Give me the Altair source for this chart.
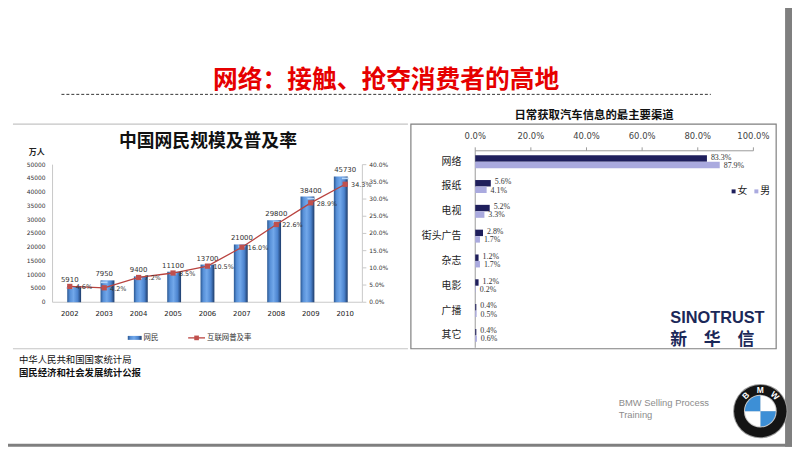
import math
import altair as alt
import pandas as pd

# ---------------- data ----------------
years = [2002, 2003, 2004, 2005, 2006, 2007, 2008, 2009, 2010]
netizens = [5910, 7950, 9400, 11100, 13700, 21000, 29800, 38400, 45730]
penetration = [4.6, 4.2, 7.2, 8.5, 10.5, 16.0, 22.6, 28.9, 34.3]
left_ticks = [0, 5000, 10000, 15000, 20000, 25000, 30000, 35000, 40000, 45000, 50000]
right_ticks = [0, 5, 10, 15, 20, 25, 30, 35, 40]

channels = ["网络", "报纸", "电视", "街头广告", "杂志", "电影", "广播", "其它"]
female = [83.3, 5.6, 5.2, 2.8, 1.2, 1.2, 0.4, 0.4]
male = [87.9, 4.1, 3.3, 1.7, 1.7, 0.2, 0.5, 0.6]
pct_ticks = [0, 20, 40, 60, 80, 100]

df_net = pd.DataFrame({"year": years, "netizens": netizens, "rate": penetration})
df_lt = pd.DataFrame({"v": left_ticks})
df_rt = pd.DataFrame({"v": right_ticks})
df_ch = pd.DataFrame({"channel": channels, "female": female, "male": male})
df_pt = pd.DataFrame({"v": pct_ticks})
one = pd.DataFrame({"d": [0]})

W, H = 792, 441
CJK = "Noto Sans CJK SC"
NUM = "DejaVu Sans"


def X(p):
    return p - 8


def Y(p):
    return p - 8


def txt(text, x, y, size, **kw):
    return alt.Chart(one).mark_text(text=text, fontSize=size, **kw).encode(
        x=alt.value(X(x)), y=alt.value(Y(y)))


def rule(x1, y1, x2, y2, **kw):
    return alt.Chart(one).mark_rule(**kw).encode(
        x=alt.value(X(x1)), y=alt.value(Y(y1)), x2=alt.value(X(x2)), y2=alt.value(Y(y2)))


def rect(x1, y1, x2, y2, **kw):
    return alt.Chart(one).mark_rect(**kw).encode(
        x=alt.value(X(x1)), y=alt.value(Y(y1)), x2=alt.value(X(x2)), y2=alt.value(Y(y2)))


# ---------------- scales ----------------
sx_year = alt.Scale(domain=[2001.5, 2010.5], range=[X(53), X(366)], nice=False, zero=False)
sy_net = alt.Scale(domain=[0, 50000], range=[Y(303), Y(164)], nice=False)
sy_rate = alt.Scale(domain=[0, 40], range=[Y(303), Y(164)], nice=False)
sx_pct = alt.Scale(domain=[0, 100], range=[X(480), X(761)], nice=False)
sy_ch = alt.Scale(domain=channels, range=[Y(148.5), Y(349)], paddingInner=0.46, paddingOuter=0.23)

grad = alt.LinearGradient(
    gradient="linear", x1=0, x2=1, y1=0, y2=0,
    stops=[alt.GradientStop(color="#2b5892", offset=0),
           alt.GradientStop(color="#5790d8", offset=0.2),
           alt.GradientStop(color="#72a8ea", offset=0.45),
           alt.GradientStop(color="#4c84cf", offset=0.75),
           alt.GradientStop(color="#1d3b69", offset=1)])

layers = []

# ---------------- slide decorations ----------------
layers.append(txt("网络：接触、抢夺消费者的高地", 390, 79, 25, font=CJK, fontWeight="bold",
                  color="#e60000", align="center", baseline="middle"))
layers.append(rule(62, 93, 718, 93, color="#333333", strokeWidth=1, strokeDash=[3, 2]))
layers.append(rule(13, 123, 412, 123, color="#c4c4c4", strokeWidth=1.2))
layers.append(rule(13, 350, 412, 350, color="#c4c4c4", strokeWidth=1.2))
layers.append(rect(415, 123, 784, 350, fill="white", stroke="#7f7f7f", strokeWidth=1.2))
layers.append(rect(793, 0, 800, 449, color="#7f7f7f"))
layers.append(rect(0, 446, 800, 449, color="#7f7f7f"))

# ---------------- left chart ----------------
layers.append(txt("中国网民规模及普及率", 210, 141, 18, font=CJK, fontWeight="bold",
                  color="#111", align="center", baseline="middle"))
layers.append(txt("万人", 37, 152, 8, font=CJK, fontWeight="bold", color="#222",
                  align="center", baseline="middle"))

layers.append(rule(53, 164, 53, 303, color="#c8c8c8"))
layers.append(rule(366, 164, 366, 303, color="#c8c8c8"))
layers.append(rule(53, 303, 366, 303, color="#c8c8c8"))

layers.append(alt.Chart(df_lt).mark_text(align="right", baseline="middle", fontSize=6,
                                         font=NUM, color="#333").encode(
    y=alt.Y("v:Q", scale=sy_net, axis=None), x=alt.value(X(46)),
    text=alt.Text("v:Q", format="d")))
layers.append(alt.Chart(df_rt).mark_rule(color="#c8c8c8").encode(
    y=alt.Y("v:Q", scale=sy_rate, axis=None), x=alt.value(X(366)), x2=alt.value(X(370))))
layers.append(alt.Chart(df_rt).transform_calculate(
    lab="format(datum.v, '.1f') + '%'").mark_text(
    align="left", baseline="middle", fontSize=6, font=NUM, color="#333").encode(
    y=alt.Y("v:Q", scale=sy_rate, axis=None), x=alt.value(X(373)), text="lab:N"))

layers.append(alt.Chart(df_net).mark_bar(size=14, fill=grad, orient="vertical").encode(
    x=alt.X("year:Q", scale=sx_year, axis=None),
    y=alt.Y("netizens:Q", scale=sy_net, axis=None)))
layers.append(alt.Chart(df_net).mark_point(
    shape="M-0.85,-0.22L0.85,-0.22L0.85,0.22L-0.85,0.22Z", filled=True, size=64,
    color="#b5d6f8", opacity=1, yOffset=2).encode(
    x=alt.X("year:Q", scale=sx_year, axis=None),
    y=alt.Y("netizens:Q", scale=sy_net, axis=None)))
layers.append(alt.Chart(df_net).mark_text(baseline="bottom", dy=-3, fontSize=7, font=NUM,
                                          color="#333").encode(
    x=alt.X("year:Q", scale=sx_year, axis=None),
    y=alt.Y("netizens:Q", scale=sy_net, axis=None),
    text=alt.Text("netizens:Q", format="d")))

layers.append(alt.Chart(df_net).mark_line(color="#b9433f", strokeWidth=1.3).encode(
    x=alt.X("year:Q", scale=sx_year, axis=None),
    y=alt.Y("rate:Q", scale=sy_rate, axis=None)))
layers.append(alt.Chart(df_net).mark_square(size=28, color="#c0504d", opacity=1).encode(
    x=alt.X("year:Q", scale=sx_year, axis=None),
    y=alt.Y("rate:Q", scale=sy_rate, axis=None)))
layers.append(alt.Chart(df_net).transform_calculate(
    lab="format(datum.rate, '.1f') + '%'").mark_text(
    align="left", baseline="middle", dx=6, dy=1, fontSize=6.5, font=NUM, color="#333").encode(
    x=alt.X("year:Q", scale=sx_year, axis=None),
    y=alt.Y("rate:Q", scale=sy_rate, axis=None), text="lab:N"))

layers.append(alt.Chart(df_net).mark_text(baseline="middle", fontSize=7, font=NUM,
                                          color="#222").encode(
    x=alt.X("year:Q", scale=sx_year, axis=None), y=alt.value(Y(315)),
    text=alt.Text("year:Q", format="d")))

# left legend
layers.append(rect(129, 337, 143, 341, fill=grad))
layers.append(txt("网民", 145, 339, 7.5, font=CJK, color="#333", align="left", baseline="middle"))
layers.append(rule(190, 339, 207, 339, color="#b9433f", strokeWidth=1.3))
layers.append(alt.Chart(one).mark_square(size=22, color="#c0504d", opacity=1).encode(
    x=alt.value(X(198.5)), y=alt.value(Y(339))))
layers.append(txt("互联网普及率", 209, 339, 7.5, font=CJK, color="#333", align="left",
                  baseline="middle"))

# ---------------- right chart ----------------
layers.append(txt("日常获取汽车信息的最主要渠道", 600, 115, 11.5, font=CJK, fontWeight="bold",
                  color="#111", align="center", baseline="middle"))
layers.append(rule(480, 150, 761, 150, color="#9a9a9a"))
layers.append(rule(480, 150, 480, 349, color="#9a9a9a"))
layers.append(alt.Chart(df_pt).mark_rule(color="#9a9a9a").encode(
    x=alt.X("v:Q", scale=sx_pct, axis=None), y=alt.value(Y(146.5)), y2=alt.value(Y(150))))
layers.append(alt.Chart(df_pt).transform_calculate(
    lab="format(datum.v, '.1f') + '%'").mark_text(
    baseline="middle", fontSize=8.5, font=NUM, color="#444").encode(
    x=alt.X("v:Q", scale=sx_pct, axis=None), y=alt.value(Y(135)), text="lab:N"))

layers.append(alt.Chart(df_ch).mark_text(align="right", baseline="middle", fontSize=10,
                                         font=CJK, color="#222").encode(
    y=alt.Y("channel:N", scale=sy_ch, axis=None), x=alt.value(X(466)), text="channel:N"))

layers.append(alt.Chart(df_ch).mark_bar(size=6.5, yOffset=-3.3, color="#1f1f5c").encode(
    x=alt.X("female:Q", scale=sx_pct, axis=None),
    y=alt.Y("channel:N", scale=sy_ch, axis=None)))
layers.append(alt.Chart(df_ch).mark_bar(size=6.5, yOffset=3.3, color="#aaaadf").encode(
    x=alt.X("male:Q", scale=sx_pct, axis=None),
    y=alt.Y("channel:N", scale=sy_ch, axis=None)))
layers.append(alt.Chart(df_ch).transform_calculate(
    lab="format(datum.female, '.1f') + '%'").mark_text(
    align="left", baseline="middle", dx=4, yOffset=-4.1, fontSize=8,
    font="Liberation Serif", color="#333").encode(
    x=alt.X("female:Q", scale=sx_pct, axis=None),
    y=alt.Y("channel:N", scale=sy_ch, axis=None), text="lab:N"))
layers.append(alt.Chart(df_ch).transform_calculate(
    lab="format(datum.male, '.1f') + '%'").mark_text(
    align="left", baseline="middle", dx=4, yOffset=4.1, fontSize=8,
    font="Liberation Serif", color="#333").encode(
    x=alt.X("male:Q", scale=sx_pct, axis=None),
    y=alt.Y("channel:N", scale=sy_ch, axis=None), text="lab:N"))

# right legend
layers.append(alt.Chart(one).mark_square(size=16, color="#1f1f5c", opacity=1).encode(
    x=alt.value(X(741)), y=alt.value(Y(191))))
layers.append(txt("女", 745, 191, 10, font=CJK, color="#222", align="left", baseline="middle"))
layers.append(alt.Chart(one).mark_square(size=16, color="#aaaadf", opacity=1).encode(
    x=alt.value(X(764)), y=alt.value(Y(191))))
layers.append(txt("男", 768, 191, 10, font=CJK, color="#222", align="left", baseline="middle"))

# Sinotrust logo text
layers.append(txt("SINOTRUST", 677, 319, 16.5, font="Liberation Sans", fontWeight="bold",
                  color="#1b2858", align="left", baseline="middle"))
layers.append(txt("新　华　信", 677, 341.5, 17, font=CJK, fontWeight="bold",
                  color="#1b2858", align="left", baseline="middle"))

# ---------------- footnotes ----------------
layers.append(txt("中华人民共和国国家统计局", 19, 361.5, 9.5, font=CJK, color="#111",
                  align="left", baseline="middle"))
layers.append(txt("国民经济和社会发展统计公报", 19, 375, 9.5, font=CJK, fontWeight="bold",
                  color="#111", align="left", baseline="middle"))

layers.append(txt("BMW Selling Process", 625, 405, 9.5, font="Liberation Sans",
                  color="#8c8c8c", align="left", baseline="middle"))
layers.append(txt("Training", 625, 417, 9.5, font="Liberation Sans",
                  color="#8c8c8c", align="left", baseline="middle"))

# ---------------- BMW roundel ----------------
cx, cy = 768, 413
TAU = 2 * math.pi


def arc(r, t1, t2, color, r2=0, **kw):
    return alt.Chart(one).mark_arc(radius=r, radius2=r2, theta=t1, theta2=t2,
                                   color=color, **kw).encode(
        x=alt.value(X(cx)), y=alt.value(Y(cy)))


layers.append(arc(27.5, 0, TAU, "#9a9a9a"))
layers.append(arc(26.5, 0, TAU, "#141414"))
layers.append(arc(16.5, 0, TAU, "#c9c9c9"))
layers.append(arc(15.5, 0, math.pi / 2, "#ffffff"))
layers.append(arc(15.5, math.pi / 2, math.pi, "#3d8fd6"))
layers.append(arc(15.5, math.pi, 1.5 * math.pi, "#ffffff"))
layers.append(arc(15.5, 1.5 * math.pi, TAU, "#3d8fd6"))
for letter, th in [("B", TAU - 0.75), ("M", 0.0), ("W", 0.75)]:
    layers.append(alt.Chart(one).mark_text(
        text=letter, radius=21.5, theta=th, angle=(math.degrees(th) % 360),
        fontSize=8.5, fontWeight="bold", font="Liberation Sans", color="white",
        align="center", baseline="middle").encode(x=alt.value(X(cx)), y=alt.value(Y(cy))))

chart = alt.layer(*layers).resolve_scale(
    x="independent", y="independent"
).properties(
    width=W, height=H, autosize=alt.AutoSizeParams(type="none"), padding=0
).configure_view(stroke=None)

chart.save("out.html", embed_options={"renderer": "svg", "actions": False})
